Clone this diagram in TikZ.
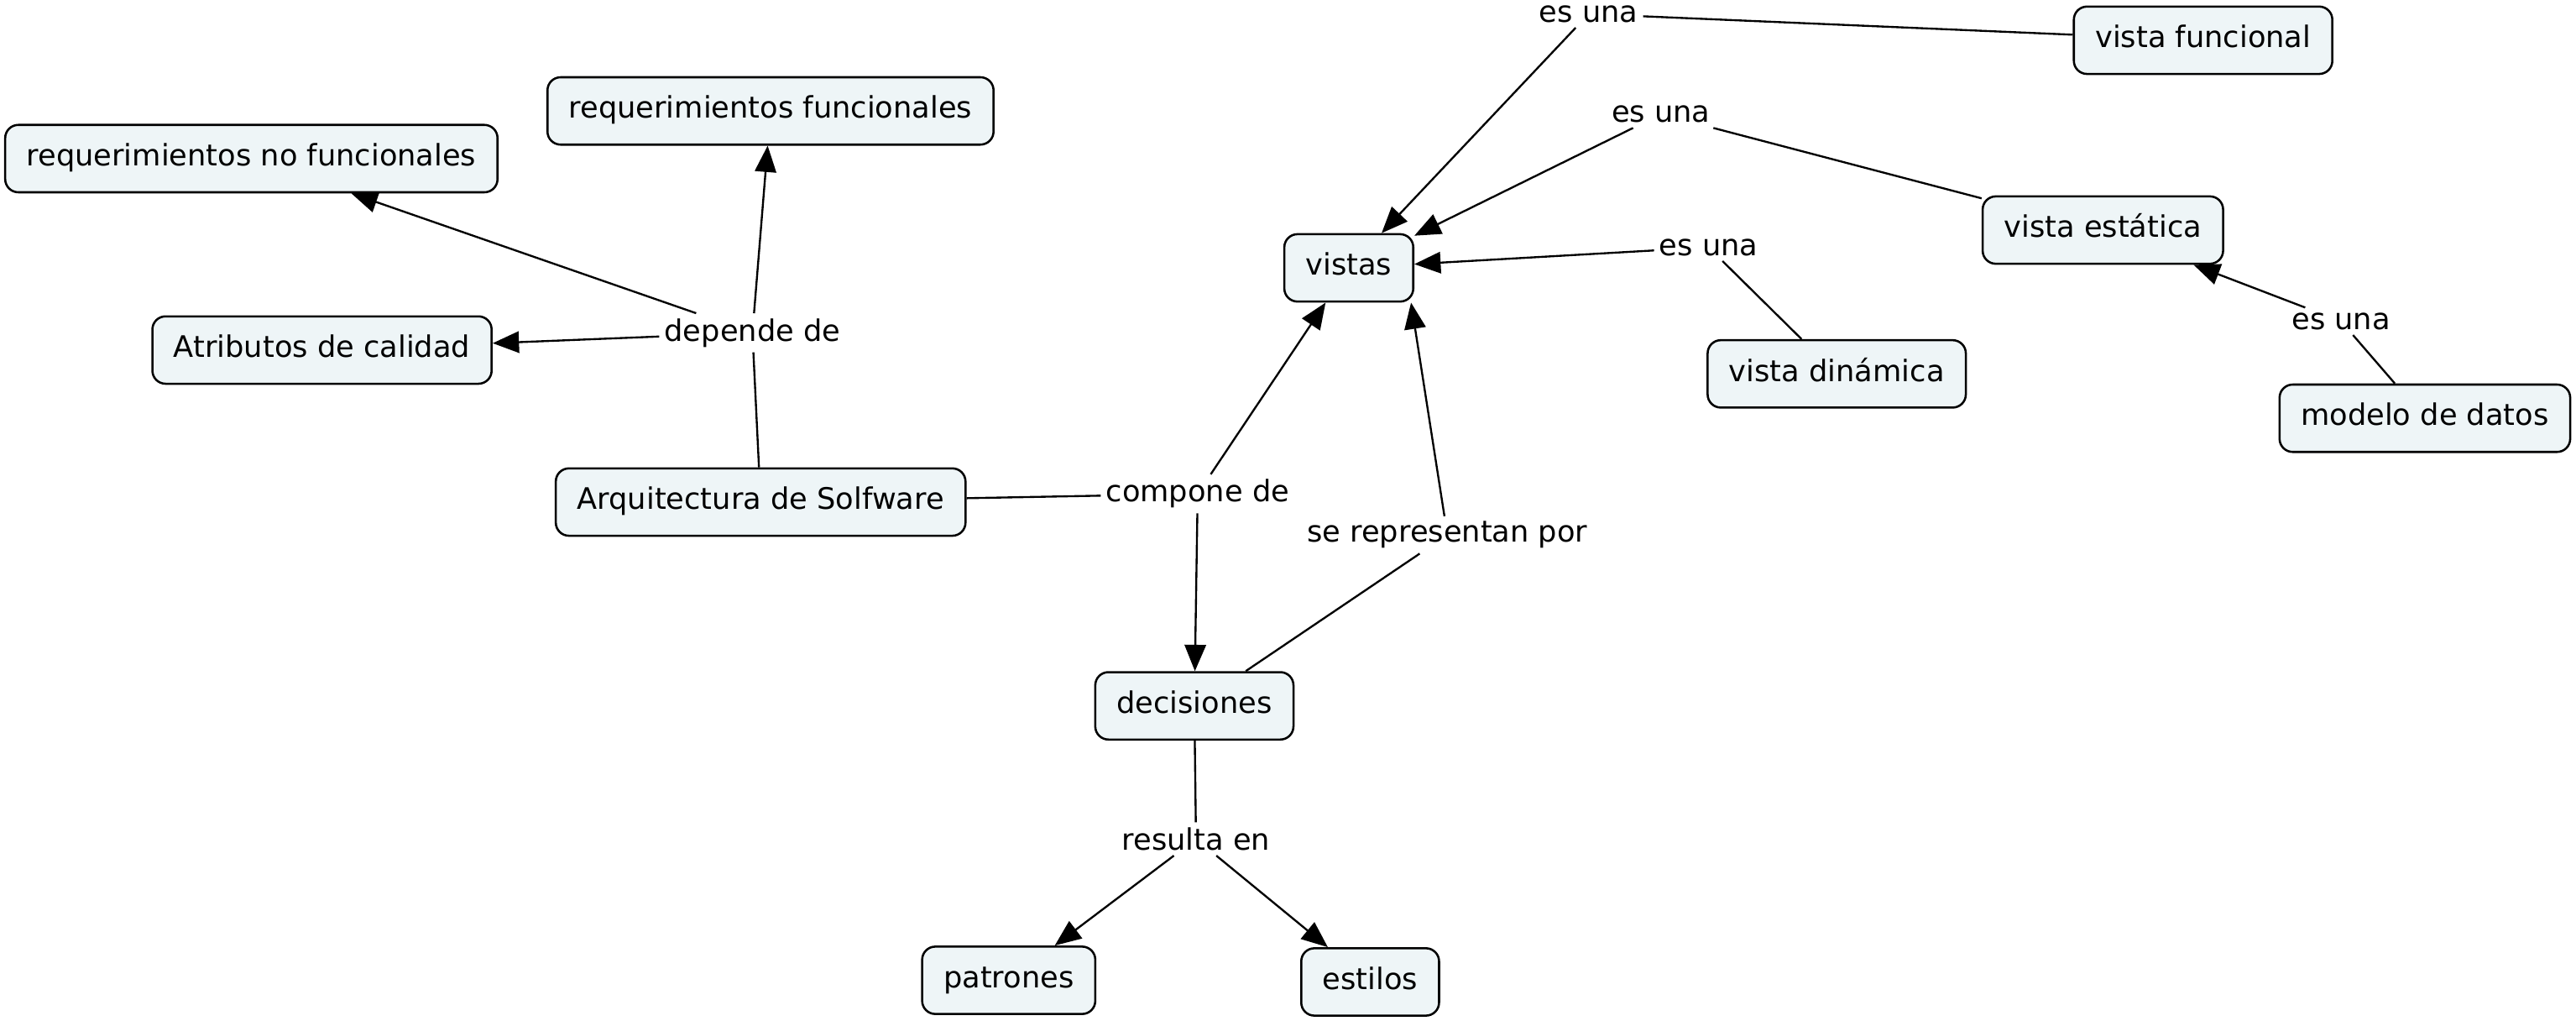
\documentclass[tikz,border=0pt]{standalone}
\usepackage{fontspec}
\setmainfont{DejaVu Sans}
\usepackage{tikz}
\usetikzlibrary{arrows.meta}
\definecolor{boxfill}{RGB}{238,245,247}
\tikzstyle{conceptbox} = [draw=black, fill=boxfill, line width=1.3pt,
    rectangle, rounded corners=8pt, inner xsep=13pt, minimum height=41pt,
    text height=13pt, text depth=4pt, font=\fontsize{18}{22}\selectfont]
\tikzstyle{linklabel} =[inner sep=3pt, font=\fontsize{18}{22}\selectfont]
\tikzstyle{linkline} =[line width=1.2pt]
\tikzstyle{arrowline} =[line width=1.2pt, -{Triangle[length=16pt,width=13pt]}]

\begin{document}
\begin{tikzpicture}[x=1pt, y=-1pt]
                \useasboundingbox (0,0) rectangle (1568,620.8);
                % concepts
                \node [conceptbox] (reqnofun) at (153,96.5) {requerimientos no funcionales};
                \node [conceptbox] (reqfun) at (469,67.5) {requerimientos funcionales};
                \node [conceptbox] (atributos) at (196,213) {Atributos de calidad};
                \node [conceptbox] (arquitectura) at (463,305.5) {Arquitectura de Solfware};
                \node [conceptbox] (vistas) at (821,163) {vistas};
                \node [conceptbox] (vfuncional) at (1341,24.5) {vista funcional};
                \node [conceptbox] (vestatica) at (1280,140) {vista estática};
                \node [conceptbox] (vdinamica) at (1118,227.5) {vista dinámica};
                \node [conceptbox] (modelo) at (1476,254.5) {modelo de datos};
                \node [conceptbox] (decisiones) at (727,429.5) {decisiones};
                \node [conceptbox] (patrones) at (614,596.5) {patrones};
                \node [conceptbox] (estilos) at (834,597.5) {estilos};
                % link phrases
                \node [linklabel] (depende) at (458,202.5) {depende de};
                \node [linklabel] (compone) at (729,300.5) {compone de};
                \node [linklabel] (representan) at (881,325.5) {se representan por};
                \node [linklabel] (resulta) at (728,510.5) {resulta en};
                \node [linklabel] (esuna1) at (967,8.5) {es una};
                \node [linklabel] (esuna2) at (1011,69.5) {es una};
                \node [linklabel] (esuna3) at (1040,150.5) {es una};
                \node [linklabel] (esuna4) at (1425,195.5) {es una};
                % connectors
                \draw [linkline] (arquitectura) -- (depende);
                \draw [arrowline] (depende) -- (reqnofun);
                \draw [arrowline] (depende) -- (reqfun);
                \draw [arrowline] (depende) -- (atributos);
                \draw [linkline] (arquitectura) -- (compone);
                \draw [arrowline] (compone) -- (decisiones);
                \draw [arrowline] (compone) -- (vistas);
                \draw [linkline] (decisiones) -- (representan);
                \draw [arrowline] (representan) -- ([xshift=-2pt]vistas.south east);
                \draw [linkline] (decisiones) -- (resulta);
                \draw [arrowline] (resulta) -- (patrones);
                \draw [arrowline] (resulta) -- (estilos);
                \draw [linkline] (vfuncional) -- (esuna1);
                \draw [arrowline] (esuna1) -- (vistas);
                \draw [linkline] (vestatica) -- (esuna2);
                \draw [arrowline] (esuna2) -- (vistas);
                \draw [linkline] (vdinamica) -- (esuna3);
                \draw [arrowline] (esuna3) -- (vistas);
                \draw [linkline] (modelo) -- (esuna4);
                \draw [arrowline] (esuna4) -- (vestatica);
            \end{tikzpicture}
\end{document}
